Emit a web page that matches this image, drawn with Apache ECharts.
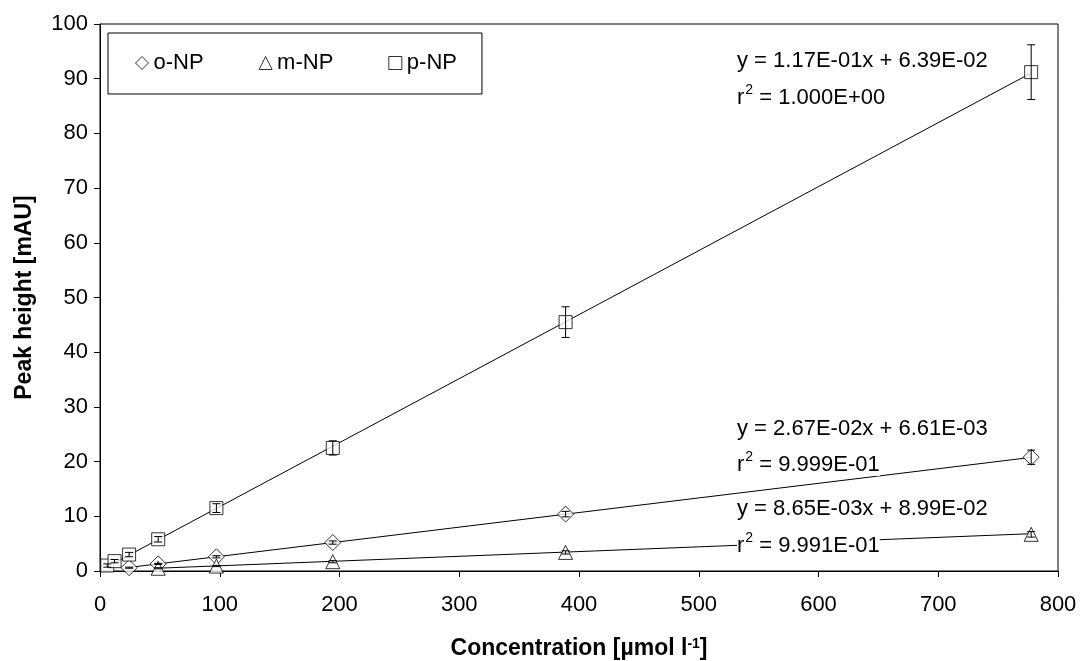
<!DOCTYPE html>
<html>
<head>
<meta charset="utf-8">
<script src="https://cdn.jsdelivr.net/npm/echarts@6/dist/echarts.min.js"></script>
<style>
html,body{margin:0;padding:0;background:#fff;}
#chart{width:1081px;height:661px;}
</style>
</head>
<body>
<div id="chart"></div>
<script>
// ---- data ----
const seriesNames = ['o-NP', 'm-NP', 'p-NP'];
const xP = [6.08, 12.15, 24.3, 48.6, 97.2, 194.4, 388.8, 777.6];
const yP = [1.0, 1.8, 3.0, 5.8, 11.5, 22.5, 45.5, 91.2];
const eP = [0.3, 0.3, 0.4, 0.5, 0.8, 1.3, 2.8, 5.0];
const xO = [24.3, 48.6, 97.2, 194.4, 388.8, 777.6];
const yO = [0.6, 1.3, 2.6, 5.2, 10.4, 20.8];
const eO = [0.1, 0.1, 0.2, 0.3, 0.5, 1.3];
const xM = [48.6, 97.2, 194.4, 388.8, 777.6];
const yM = [0.5, 0.9, 1.7, 3.4, 6.7];
const eM = [0.1, 0.1, 0.2, 0.3, 0.5];
// trendline coefficients as printed on the chart
const slopes = { 'o-NP': 2.67e-2, 'm-NP': 8.65e-3, 'p-NP': 1.17e-1 };
const intercepts = { 'o-NP': 6.61e-3, 'm-NP': 8.99e-2, 'p-NP': 6.39e-2 };
const eqLabels = {
  'p-NP': ['y = 1.17E-01x + 6.39E-02', '1.000E+00'],
  'o-NP': ['y = 2.67E-02x + 6.61E-03', '9.999E-01'],
  'm-NP': ['y = 8.65E-03x + 8.99E-02', '9.991E-01']
};
const xTicks = [0, 100, 200, 300, 400, 500, 600, 700, 800];
const yTicks = [0, 10, 20, 30, 40, 50, 60, 70, 80, 90, 100];

const FONT = 'Liberation Sans, Arial, sans-serif';
const data = {
  'o-NP': { x: xO, y: yO, e: eO, symbol: 'diamond', size: 16 },
  'm-NP': { x: xM, y: yM, e: eM, symbol: 'triangle', size: 14 },
  'p-NP': { x: xP, y: yP, e: eP, symbol: 'rect', size: 13 }
};

const chart = echarts.init(document.getElementById('chart'), null, { renderer: 'canvas' });
const series = [];
seriesNames.forEach(name => {
  const d = data[name];
  const x0 = Math.min(...d.x), x1 = Math.max(...d.x);
  series.push({
    name: name + ' trend', type: 'line', z: 2, silent: true,
    symbol: 'none', lineStyle: { color: '#000', width: 1 },
    data: [[x0, slopes[name] * x0 + intercepts[name]], [x1, slopes[name] * x1 + intercepts[name]]]
  });
  series.push({
    name: name, type: 'scatter', z: 3,
    symbol: d.symbol, symbolSize: d.size,
    itemStyle: { color: '#fff', borderColor: '#000', borderWidth: 1 },
    data: d.x.map((v, i) => [v, d.y[i]])
  });
  series.push({
    name: name + ' err', type: 'custom', z: 4, silent: true,
    renderItem: function (params, api) {
      const xv = api.value(0);
      const lo = api.coord([xv, api.value(1)]);
      const hi = api.coord([xv, api.value(2)]);
      const w = 4;
      const st = { stroke: '#000', lineWidth: 1 };
      return {
        type: 'group',
        children: [
          { type: 'line', shape: { x1: lo[0], y1: lo[1], x2: hi[0], y2: hi[1] }, style: st },
          { type: 'line', shape: { x1: lo[0] - w, y1: lo[1], x2: lo[0] + w, y2: lo[1] }, style: st },
          { type: 'line', shape: { x1: hi[0] - w, y1: hi[1], x2: hi[0] + w, y2: hi[1] }, style: st }
        ]
      };
    },
    data: d.x.map((v, i) => [v, d.y[i] - d.e[i], d.y[i] + d.e[i]])
  });
});

const eqPos = { 'p-NP': [62, 97], 'o-NP': [430, 464], 'm-NP': [510, 545] };
const graphics = [];
Object.keys(eqLabels).forEach(name => {
  const [eq, r2] = eqLabels[name];
  graphics.push({
    type: 'text', left: 737, top: eqPos[name][0] - 12, z: 10,
    style: { text: eq, font: '22px ' + FONT, fill: '#000', backgroundColor: '#fff' }
  });
  graphics.push({
    type: 'text', left: 737, top: eqPos[name][1] - 14, z: 10,
    style: {
      text: '{n|r}{s|2}{n| = ' + r2 + '}', backgroundColor: '#fff',
      rich: {
        n: { font: '22px ' + FONT, fill: '#000', verticalAlign: 'bottom', lineHeight: 26 },
        s: { font: '14px ' + FONT, fill: '#000', verticalAlign: 'top', lineHeight: 26, padding: [0, 0, 10, 1] }
      }
    }
  });
});

chart.setOption({
  animation: false,
  backgroundColor: '#fff',
  textStyle: { fontFamily: FONT },
  grid: { left: 100, right: 23, top: 24, bottom: 90, show: true, borderColor: '#000', borderWidth: 1, containLabel: false, outerBoundsMode: 'none' },
  legend: {
    data: seriesNames.map(n => ({ name: n, icon: data[n].symbol })),
    left: 108, top: 33,
    padding: [19, 25, 20, 27],
    itemGap: 55, itemWidth: 13, itemHeight: 13,
    borderColor: '#000', borderWidth: 1,
    textStyle: { fontSize: 22, color: '#000', fontFamily: FONT },
    itemStyle: { color: '#fff', borderColor: '#000', borderWidth: 1 }
  },
  xAxis: {
    type: 'value', min: xTicks[0], max: xTicks[xTicks.length - 1], interval: 100,
    name: 'Concentration [µmol l{s|-1}]', nameLocation: 'middle', nameGap: 66,
    nameTextStyle: {
      fontSize: 23, fontWeight: 'bold', color: '#000', fontFamily: FONT,
      rich: { s: { fontSize: 14, fontWeight: 'bold', verticalAlign: 'top', padding: [0, 0, 10, 0] } }
    },
    axisLine: { lineStyle: { color: '#000', width: 1 } },
    axisTick: { inside: false, length: 6, lineStyle: { color: '#000' } },
    axisLabel: { fontSize: 22, color: '#000', margin: 23, fontFamily: FONT },
    splitLine: { show: false }
  },
  yAxis: {
    type: 'value', min: yTicks[0], max: yTicks[yTicks.length - 1], interval: 10,
    name: 'Peak height [mAU]', nameLocation: 'middle', nameGap: 64, nameRotate: 90,
    nameTextStyle: { fontSize: 23, fontWeight: 'bold', color: '#000', fontFamily: FONT },
    axisLine: { lineStyle: { color: '#000', width: 1 } },
    axisTick: { inside: false, length: 6, lineStyle: { color: '#000' } },
    axisLabel: { fontSize: 22, color: '#000', margin: 12, fontFamily: FONT },
    splitLine: { show: false }
  },
  series: series,
  graphic: graphics
});
</script>
</body>
</html>
